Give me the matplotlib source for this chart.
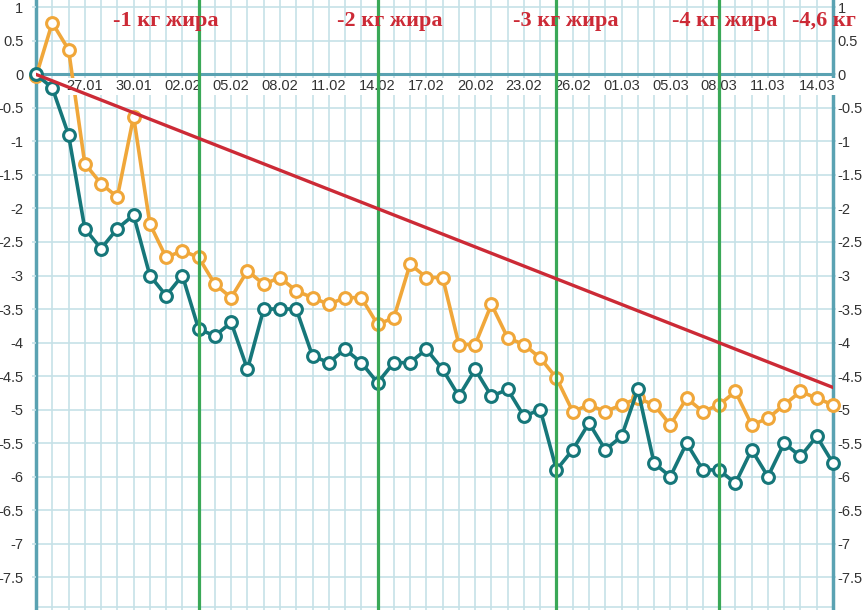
import matplotlib
matplotlib.use('Agg')
import matplotlib.pyplot as plt
import numpy as np
import datetime as dt

# dates on the x axis (one day is missing in early March)
start = dt.date(2023, 1, 24)
days = list(range(0, 37)) + list(range(38, 51))
dates = [(start + dt.timedelta(days=d)).strftime('%d.%m') for d in days]

# weight change, kg
weight = [-0.03, 0.77, 0.37, -1.33, -1.63, -1.83, -0.63, -2.23, -2.73, -2.63,
          -2.73, -3.13, -3.33, -2.93, -3.13, -3.03, -3.23, -3.33, -3.43, -3.33,
          -3.33, -3.73, -3.63, -2.83, -3.03, -3.03, -4.03, -4.03, -3.43, -3.93,
          -4.03, -4.23, -4.53, -5.03, -4.93, -5.03, -4.93, -4.83, -4.93, -5.23,
          -4.83, -5.03, -4.93, -4.73, -5.23, -5.13, -4.93, -4.73, -4.83, -4.93]
# second series, kg
second = [0, -0.2, -0.9, -2.3, -2.6, -2.3, -2.1, -3.0, -3.3, -3.0,
          -3.8, -3.9, -3.7, -4.4, -3.5, -3.5, -3.5, -4.2, -4.3, -4.1,
          -4.3, -4.6, -4.3, -4.3, -4.1, -4.4, -4.8, -4.4, -4.8, -4.7,
          -5.1, -5.0, -5.9, -5.6, -5.2, -5.6, -5.4, -4.7, -5.8, -6.0,
          -5.5, -5.9, -5.9, -6.1, -5.6, -6.0, -5.5, -5.7, -5.4, -5.8]

# fat loss trend line: start and end values
trend_vals = [0, -4.67]

# green milestone lines (index of date) and their labels
milestones = [10, 21, 32, 42]
notes = ['-1 кг жира', '-2 кг жира', '-3 кг жира', '-4 кг жира', '-4,6 кг']
note_x = [4.73, 18.5, 29.3, 39.1, 46.5]

yticks = np.arange(-7.5, 1.01, 0.5)
ylabels = [('%g' % v) for v in yticks]

grid_c = '#c6e1e7'
axis_c = '#5aa2b2'
orange = '#f0a73a'
teal = '#16777a'
red = '#cc2a36'
green = '#3aa857'
txt_c = '#333333'

fig = plt.figure(figsize=(8.67, 6.10), dpi=100)
ax = fig.add_axes([36 / 867, 0, (833 - 36) / 867, 1])
n = len(dates)
x = np.arange(n)
ax.set_xlim(0, n - 1)
ax.set_ylim(-7.99, 1.11)

# grid
for i in x:
    ax.axvline(i, color=grid_c, lw=1.2, zorder=0)
for v in yticks:
    ax.axhline(v, color=grid_c, lw=1.2, zorder=0)
ax.axhline(-7.95, color=grid_c, lw=1.2, zorder=0)
ax.axhline(0, color=axis_c, lw=2.2, zorder=1)

for s in ['top', 'bottom']:
    ax.spines[s].set_visible(False)
for s in ['left', 'right']:
    ax.spines[s].set_color(axis_c)
    ax.spines[s].set_linewidth(2.5)
    ax.spines[s].set_zorder(1)

ax.set_xticks([])
ax.set_yticks(yticks)
ax.set_yticklabels(ylabels)
ax.tick_params(axis='y', left=True, right=False, length=3, width=1.2,
               color=grid_c, labelsize=10.5, labelcolor=txt_c, pad=6)
for lab in ax.get_yticklabels():
    lab.set_fontfamily('Liberation Sans')

# right hand labels
ax2 = ax.twinx()
ax2.set_ylim(ax.get_ylim())
ax2.set_yticks(yticks)
ax2.set_yticklabels(ylabels)
ax2.tick_params(axis='y', length=2, width=1.2, color=grid_c,
                labelsize=10.5, labelcolor=txt_c, pad=1.5)
for lab in ax2.get_yticklabels():
    lab.set_fontfamily('Liberation Sans')
for s in ax2.spines.values():
    s.set_visible(False)
ax2.set_zorder(ax.get_zorder() - 1)

# data
ax.plot(x, weight, color=orange, lw=2.6, marker='o', ms=8.5, mfc='white',
        mec=orange, mew=2.2, zorder=3, clip_on=False)
ax.plot(x, second, color=teal, lw=2.6, marker='o', ms=8.5, mfc='white',
        mec=teal, mew=2.2, zorder=3, clip_on=False)

# date labels sitting on the zero line
for i in range(3, n, 3):
    ax.text(i, -0.18, dates[i], ha='center', va='center', fontsize=10.5,
            family='Liberation Sans', color=txt_c, zorder=4, clip_on=False,
            bbox=dict(boxstyle='square,pad=0.1', fc='white', ec='none'))

# milestones and trend
for m in milestones:
    ax.axvline(m, color=green, lw=2.3, zorder=5)
ax.plot([0, n - 1], trend_vals, color=red, lw=2.4, zorder=6)

for t, xp in zip(notes, note_x):
    ax.text(xp, 0.8, t, ha='left', va='center', fontsize=16,
            family='Liberation Serif', fontweight='bold', color=red,
            zorder=7, clip_on=False)

ax.patch.set_visible(False)
fig.savefig('out.png', dpi=100)
